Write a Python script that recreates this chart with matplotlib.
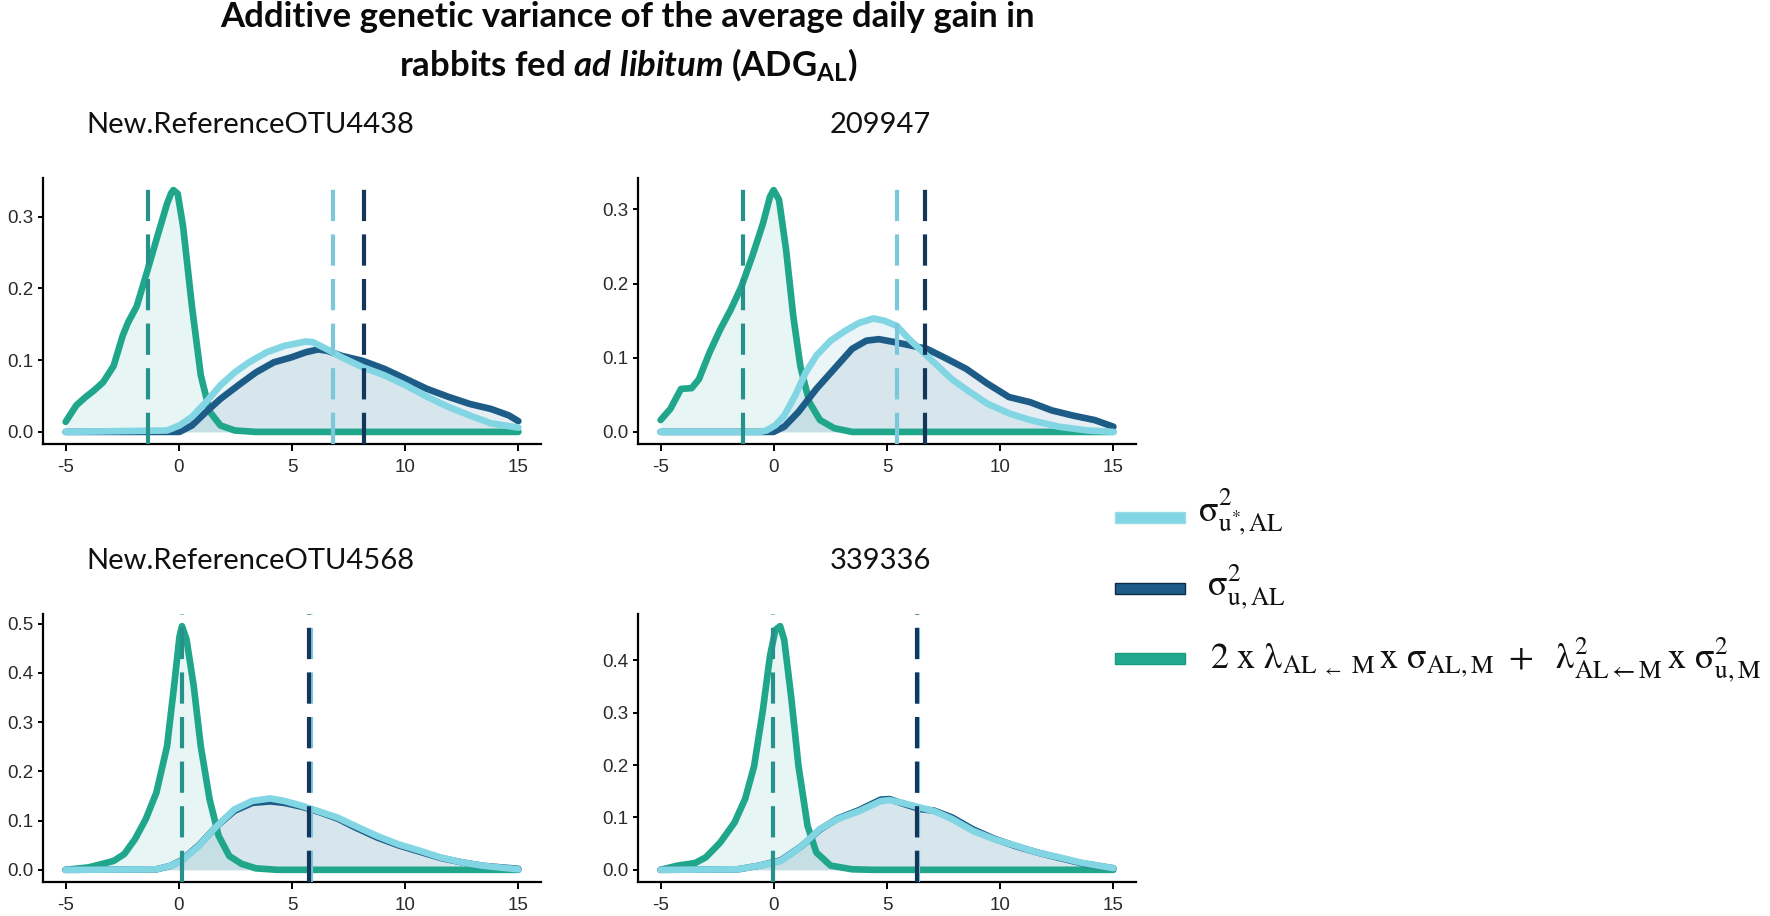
import matplotlib
matplotlib.use('Agg')
import matplotlib.pyplot as plt
from matplotlib.patches import Rectangle

# ---------------- data ----------------
panel_titles = ['New.ReferenceOTU4438', '209947', 'New.ReferenceOTU4568', '339336']
x_ticks = [-5, 0, 5, 10, 15]
y_ticks_p1 = [0.0, 0.1, 0.2, 0.3]
y_ticks_p2 = [0.0, 0.1, 0.2, 0.3]
y_ticks_p3 = [0.0, 0.1, 0.2, 0.3, 0.4, 0.5]
y_ticks_p4 = [0.0, 0.1, 0.2, 0.3, 0.4]

# Panel 1 : New.ReferenceOTU4438
p1_green_x = [-5, -4.53, -4.14, -3.74, -3.35, -2.88, -2.48, -2.25, -1.86, -1.46, -0.99, -0.52, -0.35, -0.24, -0.05, 0.19, 0.58, 0.97, 1.37, 1.84, 2.47, 3.4, 15]
p1_green_y = [0.014, 0.037, 0.048, 0.058, 0.069, 0.092, 0.134, 0.152, 0.175, 0.217, 0.268, 0.318, 0.332, 0.337, 0.332, 0.286, 0.175, 0.079, 0.028, 0.009, 0.002, 0.0, 0.0]
p1_light_x = [-5, -0.52, 0.03, 0.58, 1.21, 1.84, 2.47, 3.1, 3.88, 4.67, 5.61, 5.93, 6.56, 7.19, 8.13, 9.07, 10.02, 10.96, 11.9, 12.85, 13.79, 15]
p1_light_y = [0, 0.002, 0.009, 0.021, 0.042, 0.065, 0.083, 0.097, 0.111, 0.120, 0.126, 0.125, 0.115, 0.104, 0.090, 0.079, 0.065, 0.049, 0.035, 0.023, 0.012, 0.006]
p1_dark_x = [-5, 0.03, 0.58, 1.21, 1.84, 2.63, 3.41, 4.2, 4.98, 5.61, 6.16, 6.56, 7.19, 8.13, 9.07, 10.02, 10.96, 11.9, 12.85, 13.79, 14.58, 15]
p1_dark_y = [0, 0, 0.009, 0.028, 0.046, 0.065, 0.083, 0.097, 0.104, 0.111, 0.115, 0.113, 0.106, 0.099, 0.088, 0.074, 0.060, 0.049, 0.039, 0.032, 0.023, 0.015]
p1_means = [-1.38, 6.83, 8.16]   # green, light, dark

# Panel 2 : 209947
p2_green_x = [-5, -4.57, -4.1, -3.63, -3.31, -2.84, -2.37, -1.9, -1.43, -0.95, -0.48, -0.17, -0.01, 0.23, 0.54, 0.86, 1.17, 1.57, 2.04, 2.67, 3.46, 15]
p2_green_y = [0.016, 0.031, 0.058, 0.059, 0.071, 0.107, 0.138, 0.165, 0.196, 0.237, 0.281, 0.317, 0.326, 0.313, 0.246, 0.156, 0.089, 0.040, 0.016, 0.005, 0, 0]
p2_light_x = [-5, -0.64, -0.32, 0.07, 0.46, 0.94, 1.41, 1.88, 2.51, 3.14, 3.77, 4.4, 4.87, 5.43, 5.98, 6.61, 7.24, 7.87, 8.65, 9.44, 10.39, 11.33, 12.59, 13.85, 15]
p2_light_y = [0, 0, 0.002, 0.009, 0.022, 0.049, 0.080, 0.103, 0.123, 0.136, 0.147, 0.153, 0.150, 0.143, 0.125, 0.107, 0.089, 0.071, 0.054, 0.038, 0.025, 0.016, 0.007, 0.002, 0]
p2_dark_x = [-5, -0.01, 0.46, 1.09, 1.88, 2.67, 3.46, 4.09, 4.64, 5.35, 6.13, 6.76, 7.55, 8.5, 9.44, 10.39, 11.33, 12.28, 13.22, 14.17, 15]
p2_dark_y = [0, 0, 0.007, 0.027, 0.058, 0.085, 0.112, 0.123, 0.125, 0.121, 0.116, 0.112, 0.100, 0.085, 0.065, 0.047, 0.040, 0.029, 0.022, 0.016, 0.007]
p2_means = [-1.34, 5.44, 6.70]

# Panel 3 : New.ReferenceOTU4568
p3_green_x = [-5, -3.98, -2.88, -2.41, -1.94, -1.46, -0.99, -0.52, -0.21, 0.03, 0.14, 0.34, 0.66, 0.97, 1.36, 1.76, 2.23, 2.78, 3.41, 4.35, 15]
p3_green_y = [0, 0.005, 0.018, 0.032, 0.062, 0.103, 0.157, 0.251, 0.373, 0.474, 0.495, 0.468, 0.373, 0.251, 0.143, 0.069, 0.028, 0.012, 0.003, 0, 0]
p3_light_x = [-5, -0.99, -0.37, 0.11, 0.89, 1.68, 2.46, 3.25, 4.03, 4.66, 5.45, 6.23, 7.02, 7.8, 8.75, 9.69, 10.63, 11.58, 12.52, 13.46, 15]
p3_light_y = [0, 0.001, 0.008, 0.018, 0.049, 0.089, 0.123, 0.140, 0.145, 0.140, 0.130, 0.118, 0.106, 0.089, 0.069, 0.052, 0.039, 0.025, 0.015, 0.008, 0.001]
p3_dark_x = [-5, -0.99, -0.37, 0.11, 0.89, 1.68, 2.46, 3.25, 4.03, 4.66, 5.45, 6.23, 7.02, 7.8, 8.75, 9.69, 10.63, 11.58, 12.52, 13.46, 15]
p3_dark_y = [0, 0.001, 0.008, 0.019, 0.050, 0.089, 0.120, 0.136, 0.139, 0.136, 0.128, 0.117, 0.104, 0.086, 0.066, 0.050, 0.037, 0.024, 0.015, 0.008, 0.002]
p3_means = [0.12, 5.82, 5.73]

# Panel 4 : 339336
p4_green_x = [-5, -4.26, -3.47, -3.0, -2.37, -1.74, -1.27, -0.87, -0.48, -0.17, 0.07, 0.28, 0.46, 0.78, 1.09, 1.49, 1.88, 2.51, 3.46, 4.4, 15]
p4_green_y = [0, 0.008, 0.013, 0.024, 0.052, 0.090, 0.135, 0.198, 0.306, 0.408, 0.458, 0.465, 0.439, 0.325, 0.198, 0.084, 0.033, 0.008, 0.001, 0, 0]
p4_light_x = [-5, -1.58, -0.64, 0.31, 1.25, 2.04, 2.83, 3.77, 4.72, 5.11, 5.66, 6.45, 7.08, 7.87, 8.81, 9.76, 10.7, 11.65, 12.59, 13.54, 15]
p4_light_y = [0, 0.001, 0.008, 0.017, 0.046, 0.078, 0.097, 0.112, 0.131, 0.133, 0.128, 0.119, 0.112, 0.097, 0.074, 0.058, 0.046, 0.033, 0.024, 0.014, 0.003]
p4_dark_x = [-5, -1.58, -0.64, 0.31, 1.25, 2.04, 2.83, 3.77, 4.72, 5.11, 5.66, 6.45, 7.08, 7.87, 8.81, 9.76, 10.7, 11.65, 12.59, 13.54, 15]
p4_dark_y = [0, 0.001, 0.008, 0.018, 0.046, 0.077, 0.098, 0.114, 0.134, 0.135, 0.127, 0.116, 0.113, 0.100, 0.077, 0.059, 0.045, 0.033, 0.023, 0.013, 0.003]
p4_means = [-0.03, 6.38, 6.33]

legend_labels = [
    r'$\sigma^{2}_{\mathrm{u}^{*}\!,\mathrm{AL}}$',
    r'$\sigma^{2}_{\mathrm{u,AL}}$',
    r'$2\ \mathrm{x}\ \lambda_{\mathrm{AL}\ _{\leftarrow}\ \mathrm{M}}\,\mathrm{x}\ \sigma_{\mathrm{AL,M}}\ +\ \ \lambda^{2}_{\mathrm{AL}\leftarrow\mathrm{M}}\,\mathrm{x}\ \sigma^{2}_{\mathrm{u,M}}$',
]

# ---------------- style ----------------
W, H = 1770, 916
C_LIGHT = '#82D6E4'
C_DARK = '#1E5C88'
C_GREEN = '#20A78B'
VL_LIGHT = '#7BC8DB'
VL_DARK = '#14365A'
VL_GREEN = '#27918B'

plt.rcParams['mathtext.fontset'] = 'custom'
plt.rcParams['mathtext.rm'] = 'Lato:bold'
plt.rcParams['mathtext.it'] = 'Lato:bold:italic'
plt.rcParams['mathtext.bf'] = 'Lato:bold'
plt.rcParams['mathtext.default'] = 'rm'

fig = plt.figure(figsize=(W / 100, H / 100), dpi=100)


def px_rect(l, t, r, b):
    return [l / W, 1 - b / H, (r - l) / W, (b - t) / H]


panels = [
    dict(rect=(43, 178, 541, 444), title_x=250, title_y=133, yt=y_ticks_p1,
         g=(p1_green_x, p1_green_y), l=(p1_light_x, p1_light_y), d=(p1_dark_x, p1_dark_y), m=p1_means),
    dict(rect=(638, 178, 1136, 444), title_x=880, title_y=133, yt=y_ticks_p2,
         g=(p2_green_x, p2_green_y), l=(p2_light_x, p2_light_y), d=(p2_dark_x, p2_dark_y), m=p2_means),
    dict(rect=(43, 614, 541, 882), title_x=250, title_y=569, yt=y_ticks_p3,
         g=(p3_green_x, p3_green_y), l=(p3_light_x, p3_light_y), d=(p3_dark_x, p3_dark_y), m=p3_means),
    dict(rect=(638, 614, 1136, 882), title_x=880, title_y=569, yt=y_ticks_p4,
         g=(p4_green_x, p4_green_y), l=(p4_light_x, p4_light_y), d=(p4_dark_x, p4_dark_y), m=p4_means),
]

for i, p in enumerate(panels):
    ax = fig.add_axes(px_rect(*p['rect']))
    gx, gy = p['g']
    lx, ly = p['l']
    dx, dy = p['d']
    ax.fill_between(gx, gy, 0, color='#5FC3C0', alpha=0.15, lw=0)
    ax.fill_between(dx, dy, 0, color='#5E8FAF', alpha=0.15, lw=0)
    ax.fill_between(lx, ly, 0, color='#7FB8CC', alpha=0.15, lw=0)
    kw = dict(lw=4.8, solid_capstyle='round', solid_joinstyle='round')
    ax.plot(gx, gy, color=C_GREEN, zorder=3, **kw)
    ax.plot(dx, dy, color=C_DARK, zorder=4, **kw)
    ax.plot(lx, ly, color=C_LIGHT, zorder=5, **kw)
    mg, ml, md = p['m']
    dkw = dict(lw=3.0, dashes=(7.5, 3.2), zorder=6)
    ax.axvline(mg, color=VL_GREEN, **dkw)
    ax.axvline(ml, color=VL_LIGHT, **dkw)
    ax.axvline(md, color=VL_DARK, **dkw)

    ymax = max(max(gy), max(ly), max(dy))
    ax.set_xlim(-6, 16)
    ax.set_ylim(-0.05 * ymax, 1.05 * ymax)
    ax.set_xticks(x_ticks)
    ax.set_xticklabels([str(v) for v in x_ticks])
    ax.set_yticks(p['yt'])
    ax.set_yticklabels([f'{v:.1f}' for v in p['yt']])
    for s in ['top', 'right']:
        ax.spines[s].set_visible(False)
    for s in ['left', 'bottom']:
        ax.spines[s].set_linewidth(1.6)
        ax.spines[s].set_color('black')
    ax.tick_params(axis='x', length=5, width=1.4, pad=6, labelsize=13.5, labelcolor='#2a2a2a')
    ax.tick_params(axis='y', length=3.8, width=1.4, pad=3, labelsize=13.5, labelcolor='#2a2a2a')
    for lab in ax.get_xticklabels() + ax.get_yticklabels():
        lab.set_family('Liberation Sans')
    ax.set_facecolor('none')

    fig.text(p['title_x'] / W, 1 - p['title_y'] / H, panel_titles[i], ha='center', va='baseline',
             fontsize=21, family='Lato', color='#111111')

# ---------------- main title ----------------
fig.text(628 / W, 1 - 27 / H, 'Additive genetic variance of the average daily gain in',
         ha='center', va='baseline', fontsize=25, fontweight='bold', family='Lato', color='#0a0a0a')
fig.text(628 / W, 1 - 76 / H, r'rabbits fed $\mathit{ad\ libitum}$ (ADG$_{\mathrm{AL}}$)',
         ha='center', va='baseline', fontsize=25, fontweight='bold', family='Lato', color='#0a0a0a',
         math_fontfamily='custom')

# ---------------- legend ----------------
key_specs = [(517, C_LIGHT, '#9ADDE8'), (588, C_DARK, '#0E2C46'), (658, '#22A98D', '#1C9A80')]
label_pos = [(1198, 512), (1207, 587), (1210, 660)]
for (yc, fc, ec), (tx, ty), lab in zip(key_specs, label_pos, legend_labels):
    fig.patches.append(Rectangle((1115 / W, 1 - (yc + 5.5) / H), 70 / W, 11 / H,
                                 transform=fig.transFigure, facecolor=fc, edgecolor=ec, lw=1.0))
    fig.text(tx / W, 1 - ty / H, lab, ha='left', va='center', fontsize=26,
             math_fontfamily='stix', color='#111111')

fig.savefig('out.png', dpi=100, facecolor='white')
